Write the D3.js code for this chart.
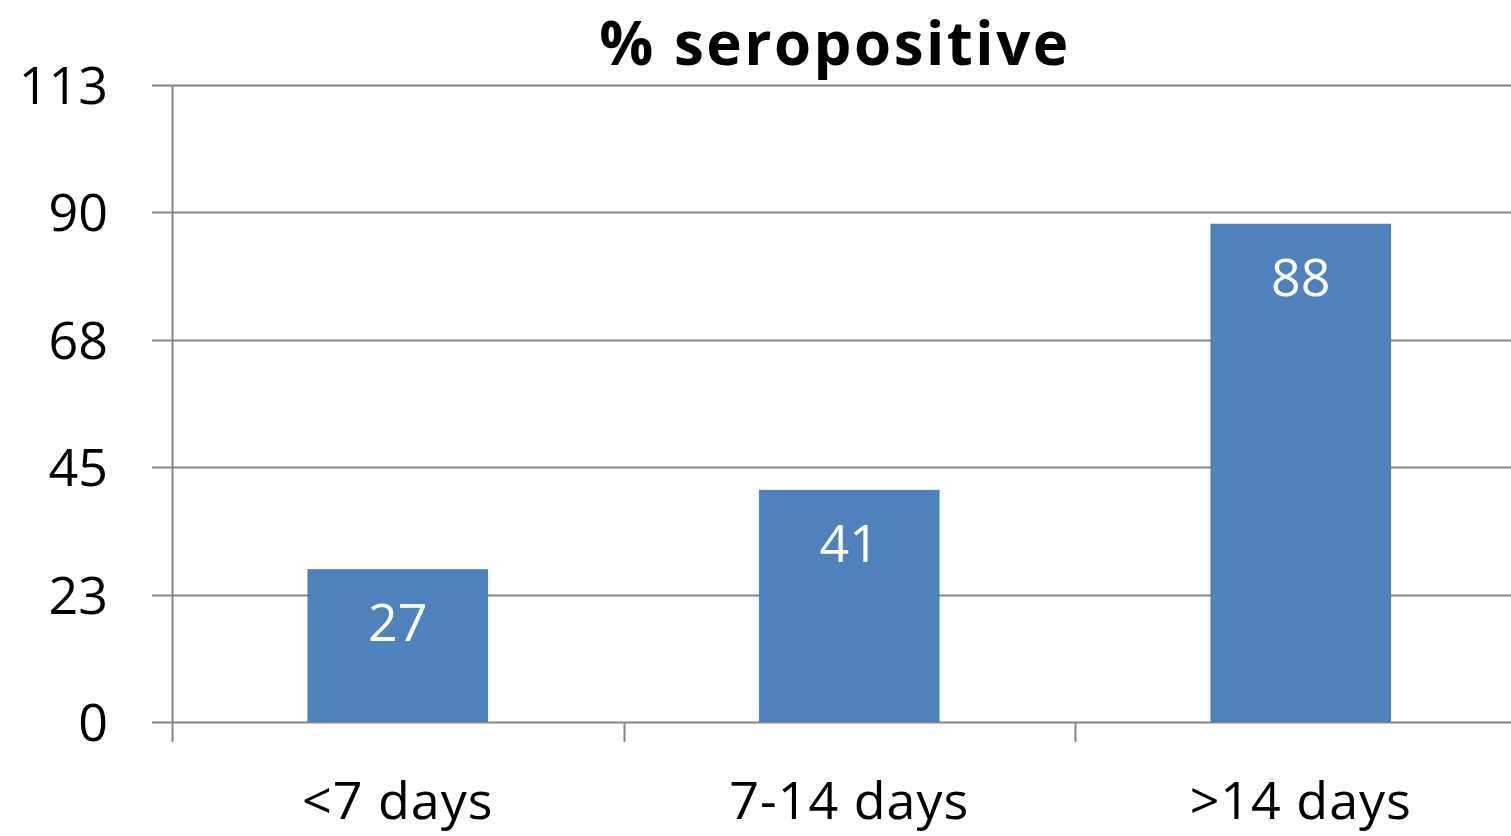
<!DOCTYPE html>
<html><head><meta charset="utf-8">
<script src="https://cdn.jsdelivr.net/npm/d3@7"></script>
<style>body{margin:0;background:#fff}svg{display:block}</style>
</head><body>
<svg id="c" width="1511" height="836"></svg>
<script>
const categories = ["<7 days", "7-14 days", ">14 days"];
const values = [27, 41, 88];
const tickValues = [0, 22.5, 45, 67.5, 90, 112.5];
const tickLabels = ["0", "23", "45", "68", "90", "113"];
const title = "% seropositive";

const svg = d3.select("#c");
const font = "'Open Sans', sans-serif";
const x0 = 172, x1 = 1526.5, yTop = 85, yBot = 722;
const x = d3.scaleBand().domain(categories).range([x0, x1]).paddingInner(0.6).paddingOuter(0.3);
const xEdge = d3.scalePoint().domain(d3.range(categories.length + 1)).range([x0, x1]);
const y = d3.scaleLinear().domain([0, 112.5]).range([yBot, yTop]);
const grid = "#868686";

// gridlines
svg.append("g").selectAll("line").data(tickValues).join("line")
  .attr("x1", 152).attr("x2", 1511)
  .attr("y1", d => Math.round(y(d)) + 0.5).attr("y2", d => Math.round(y(d)) + 0.5)
  .attr("stroke", grid).attr("stroke-width", 2);

// y axis line
svg.append("line").attr("x1", x0 + 0.5).attr("x2", x0 + 0.5).attr("y1", yTop).attr("y2", yBot + 20)
  .attr("stroke", grid).attr("stroke-width", 2);

// x ticks
svg.append("g").selectAll("line").data(d3.range(1, categories.length + 1)).join("line")
  .attr("x1", d => Math.round(xEdge(d)) + 0.5).attr("x2", d => Math.round(xEdge(d)) + 0.5)
  .attr("y1", yBot).attr("y2", yBot + 20)
  .attr("stroke", grid).attr("stroke-width", 2);

// y labels
svg.append("g").selectAll("text").data(tickValues).join("text")
  .attr("x", 108).attr("y", d => y(d) + 19)
  .attr("text-anchor", "end").attr("font-family", font).attr("font-size", 52)
  .attr("fill", "#000").text((d, i) => tickLabels[i]);

// bars
svg.append("g").selectAll("rect").data(values).join("rect")
  .attr("x", (d, i) => x(categories[i])).attr("width", x.bandwidth())
  .attr("y", d => y(d)).attr("height", d => yBot - y(d))
  .attr("fill", "#4f81bd");

// bar labels
svg.append("g").selectAll("text").data(values).join("text")
  .attr("x", (d, i) => x(categories[i]) + x.bandwidth() / 2).attr("y", d => y(d) + 72)
  .attr("text-anchor", "middle").attr("font-family", font).attr("font-size", 52)
  .attr("fill", "#fff").text(d => d);

// x labels
svg.append("g").selectAll("text").data(categories).join("text")
  .attr("x", d => x(d) + x.bandwidth() / 2).attr("y", 819)
  .attr("text-anchor", "middle").attr("font-family", font).attr("font-size", 52)
  .attr("letter-spacing", 1)
  .attr("fill", "#000").text(d => d);

// title
svg.append("text").attr("x", 835).attr("y", 65).attr("text-anchor", "middle")
  .attr("font-family", font).attr("font-weight", "bold").attr("font-size", 60)
  .attr("letter-spacing", 2.5)
  .attr("fill", "#000").text(title);
</script>
</body></html>
